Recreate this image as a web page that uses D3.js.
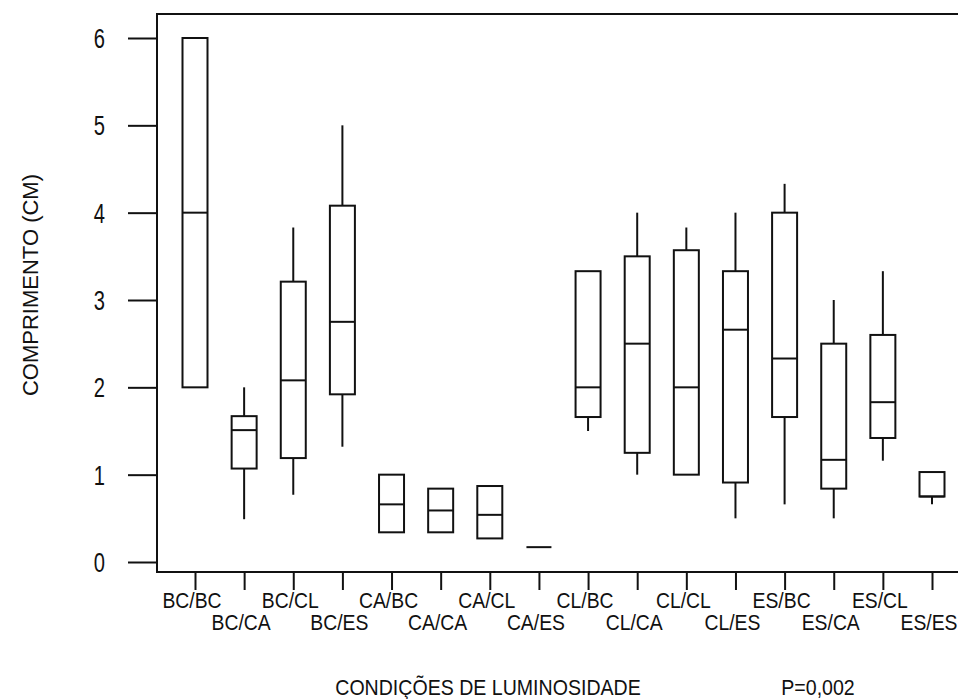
<!DOCTYPE html>
<html>
<head>
<meta charset="utf-8">
<script src="https://cdn.jsdelivr.net/npm/d3@7"></script>
<style>
  body { margin: 0; background: #fff; }
  svg { display: block; }
</style>
</head>
<body>
<script>
// Box-plot summaries per lighting condition (length in cm)
const categories = ["BC/BC", "BC/CA", "BC/CL", "BC/ES", "CA/BC", "CA/CA", "CA/CL", "CA/ES",
                    "CL/BC", "CL/CA", "CL/CL", "CL/ES", "ES/BC", "ES/CA", "ES/CL", "ES/ES"];
const whiskerLow  = [2.00, 0.49, 0.77, 1.32, 0.34, 0.34, 0.27, 0.17, 1.50, 1.00, 1.00, 0.50, 0.66, 0.50, 1.16, 0.66];
const q1          = [2.00, 1.07, 1.19, 1.92, 0.34, 0.34, 0.27, 0.17, 1.66, 1.25, 1.00, 0.91, 1.66, 0.84, 1.42, 0.75];
const median      = [4.00, 1.51, 2.08, 2.75, 0.66, 0.59, 0.54, 0.17, 2.00, 2.50, 2.00, 2.66, 2.33, 1.17, 1.83, 0.75];
const q3          = [6.00, 1.67, 3.21, 4.08, 1.00, 0.84, 0.87, 0.17, 3.33, 3.50, 3.57, 3.33, 4.00, 2.50, 2.60, 1.03];
const whiskerHigh = [6.00, 2.00, 3.83, 5.00, 1.00, 0.84, 0.87, 0.17, 3.33, 4.00, 3.83, 4.00, 4.33, 3.00, 3.33, 1.03];
const yTickValues = [0, 1, 2, 3, 4, 5, 6];
const yTitle = "COMPRIMENTO (CM)";
const xTitle = "CONDIÇÕES DE LUMINOSIDADE";
const pLabel = "P=0,002";

const W = 958, H = 699;
const frame = { left: 157, top: 14, bottom: 572, right: 958 };
const boxWidth = 25;
const ink = "#111";
const font = "'Liberation Sans', Arial, sans-serif";

const x = d3.scalePoint().domain(categories).range([195, 932]);
const y = d3.scaleLinear().domain([0, 6]).range([562, 38]);

const svg = d3.select("body").append("svg")
  .attr("width", W).attr("height", H)
  .style("font-family", font);

// text drawn with a horizontal squeeze so glyphs come out tall and narrow
function drawText(parent, txt, tx, ty, size, sx, anchor, rot) {
  return parent.append("text")
    .attr("transform", `translate(${tx},${ty}) rotate(${rot || 0}) scale(${sx},1)`)
    .attr("text-anchor", anchor || "middle")
    .attr("font-size", size)
    .attr("fill", ink)
    .text(txt);
}

// frame: left, top and bottom rules
const frameG = svg.append("g").attr("fill", "none").attr("stroke", ink).attr("stroke-width", 2);
frameG.append("path")
  .attr("d", `M${frame.right},${frame.top}H${frame.left}V${frame.bottom}H${frame.right}`);

// y axis ticks
const yAxis = d3.axisLeft(y).tickValues(yTickValues).tickSize(29).tickFormat("");
const yAxisG = svg.append("g").attr("transform", `translate(${frame.left},0)`).call(yAxis);
yAxisG.select(".domain").remove();
yAxisG.selectAll(".tick line").attr("stroke", ink).attr("stroke-width", 2);

yTickValues.forEach(v => {
  drawText(svg, String(v), 105, y(v) + 10, 28, 0.72, "end");
});

// x axis ticks
const xAxis = d3.axisBottom(x).tickSize(18).tickFormat("");
const xAxisG = svg.append("g").attr("transform", `translate(0,${frame.bottom})`).call(xAxis);
xAxisG.select(".domain").remove();
xAxisG.selectAll(".tick line").attr("stroke", ink).attr("stroke-width", 2);

categories.forEach((c, i) => {
  const row = i % 2;
  drawText(svg, c, x(c) - 3, row === 0 ? 608 : 630, 22, 0.88, "middle");
});

// boxes
const boxes = svg.append("g").attr("stroke", ink).attr("stroke-width", 2).attr("fill", "none");
categories.forEach((c, i) => {
  const cx = x(c);
  const g = boxes.append("g");
  if (whiskerHigh[i] > q3[i]) {
    g.append("line").attr("x1", cx).attr("x2", cx).attr("y1", y(q3[i])).attr("y2", y(whiskerHigh[i]));
  }
  if (whiskerLow[i] < q1[i]) {
    g.append("line").attr("x1", cx).attr("x2", cx).attr("y1", y(q1[i])).attr("y2", y(whiskerLow[i]));
  }
  g.append("rect")
    .attr("x", cx - boxWidth / 2).attr("width", boxWidth)
    .attr("y", y(q3[i])).attr("height", y(q1[i]) - y(q3[i]));
  g.append("line")
    .attr("x1", cx - boxWidth / 2).attr("x2", cx + boxWidth / 2)
    .attr("y1", y(median[i])).attr("y2", y(median[i]));
});

// titles
drawText(svg, yTitle, 38, 285, 22, 1.0, "middle", -90);
drawText(svg, xTitle, 488, 695, 22, 0.89, "middle");
drawText(svg, pLabel, 818, 695, 22, 0.89, "middle");
</script>
</body>
</html>
